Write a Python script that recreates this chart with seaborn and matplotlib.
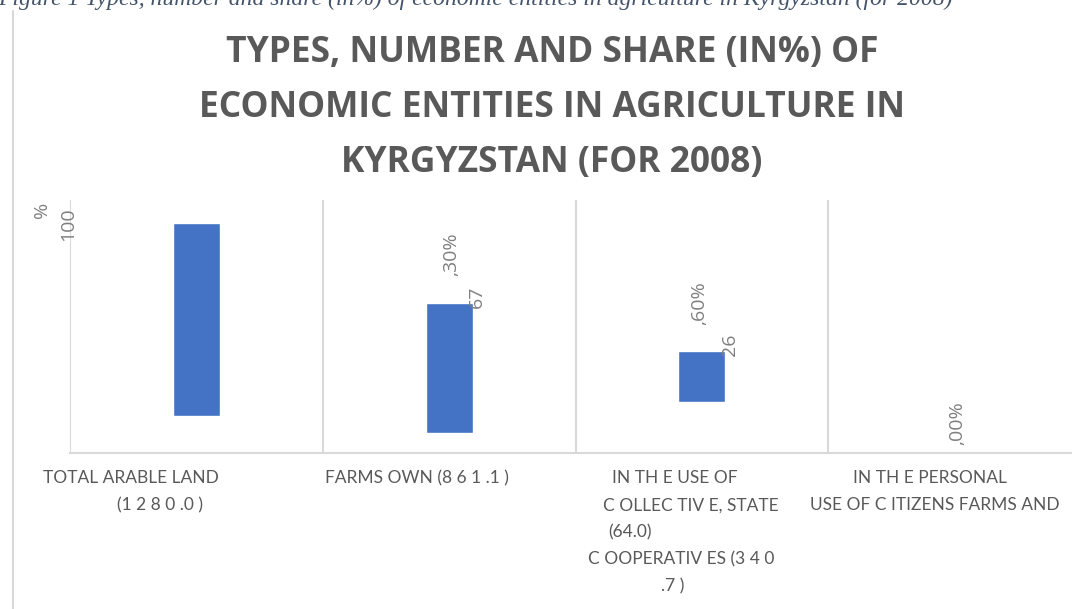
import numpy as np
import matplotlib.pyplot as plt
import matplotlib.transforms as mtransforms
from matplotlib.lines import Line2D
import seaborn as sns
import pandas as pd

# chart data (as printed in the source figure)
categories = ["TOTAL ARABLE LAND", "FARMS OWN", "IN THE USE OF COLLECTIVE", "IN THE PERSONAL USE"]
share = [100.0, 67.3, 26.6, 0.0]
bar_base = [19.2, 10.4, 26.4, 0.0]   # the bars float in the original rendering
label_num = ["100", "67", "26", ""]
label_pct = ["%", ",30%", ",60%", ",00%"]
tick_lines = [
    ["TOTAL ARABLE LAND", "(1 2 8 0 .0 )"],
    ["FARMS OWN (8 6 1 .1 )"],
    ["IN TH E USE OF", "C OLLEC TIV E, STATE", "(64.0)", "C OOPERATIV ES (3 4 0", ".7 )"],
    ["IN TH E PERSONAL", "USE OF C ITIZENS FARMS AND"],
]

# horizontal pixel shift of each label line from its category centre
tick_shift = [[-65, -36], [-32], [-27, -11, -72, -21, -29], [-25, -20]]

df = pd.DataFrame({"category": categories, "share": share})

sns.set_style("white")
plt.rcParams["font.family"] = ["Open Sans", "DejaVu Sans"]

fig = plt.figure(figsize=(10.72, 6.09), dpi=100)
ax = fig.add_axes([70 / 1072, 1 - 453 / 609, 1011 / 1072, 253 / 609])

sns.barplot(data=df, x="category", y="share", color="#4472C4", saturation=1,
            width=0.186, ax=ax)
for patch, b in zip(ax.patches, bar_base):
    patch.set_y(b)

ax.set_ylim(0, 131)
ax.set_xlim(-0.5, 3.5)
ax.set_xlabel("")
ax.set_ylabel("")
ax.set_yticks([])
ax.set_xticks([])
for s in ["top", "left", "right"]:
    ax.spines[s].set_visible(False)
ax.spines["bottom"].set_color("#d9d9d9")
ax.spines["bottom"].set_linewidth(1.5)
for xv in np.arange(-0.5, 4.0, 1.0):
    ax.axvline(xv, color="#d9d9d9", lw=1.5, zorder=0)

# broken data labels
lab_gray = "#7f7f7f"
num_pos = [(-0.507, 118.7), (1.11, 80.8), (2.11, 56.0), (3.0, 0)]
pct_pos = [(-0.61, 126.0), (1.01, 103.0), (1.99, 77.7), (3.01, 15.5)]
for i in range(len(categories)):
    if label_num[i]:
        ax.text(num_pos[i][0], num_pos[i][1], label_num[i], rotation=90,
                ha="center", va="center", fontsize=14, color=lab_gray, clip_on=False)
    ax.text(pct_pos[i][0], pct_pos[i][1], label_pct[i], rotation=90,
            ha="center", va="center", fontsize=14, color=lab_gray, clip_on=False)

# category labels
blend = mtransforms.blended_transform_factory(ax.transData, ax.transAxes)
for i, lines in enumerate(tick_lines):
    for k, line in enumerate(lines):
        off = mtransforms.ScaledTranslation(tick_shift[i][k] / 100, -(25 + 27.2 * k) / 100,
                                            fig.dpi_scale_trans)
        ax.text(i, 0, line, transform=blend + off, ha="center", va="center",
                fontsize=12.5, color="#595959", family=["Lato", "Open Sans"],
                clip_on=False)

fig.text(552 / 1072, 1 - 108 / 609,
         "TYPES, NUMBER AND SHARE (IN%) OF\nECONOMIC ENTITIES IN AGRICULTURE IN\nKYRGYZSTAN (FOR 2008)",
         ha="center", va="center", fontsize=25.5, fontweight="bold", color="#595959",
         linespacing=1.7)

fig.text(-2 / 1072, 1 - 5 / 609,
         "Figure 1 Types, number and share (in%) of economic entities in agriculture in Kyrgyzstan (for 2008)",
         ha="left", va="baseline", fontsize=17, style="italic", color="#44546A",
         family="Liberation Serif")

fig.add_artist(Line2D([13 / 1072, 13 / 1072], [0, 1 - 11 / 609], color="#d9d9d9", lw=1.5))

plt.savefig("out.png", dpi=100)
